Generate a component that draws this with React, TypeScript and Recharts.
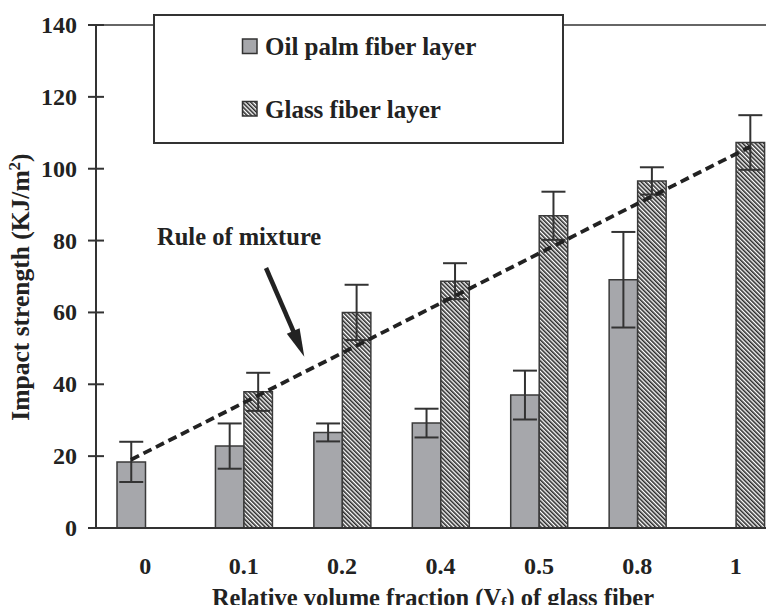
import React from 'react';
import {
  ComposedChart,
  Bar,
  XAxis,
  YAxis,
  ErrorBar,
  ReferenceLine,
  Legend,
} from 'recharts';

// Relative volume fraction of glass fiber (category labels)
const categories = ['0', '0.1', '0.2', '0.4', '0.5', '0.8', '1'];
// Impact strength (KJ/m²) and standard deviations
const oilPalm = [18.4, 22.8, 26.6, 29.2, 37.0, 69.1, null];
const oilPalmErr = [5.6, 6.3, 2.5, 4.0, 6.8, 13.3, null];
const glass = [null, 37.9, 60.0, 68.7, 86.9, 96.6, 107.3];
const glassErr = [null, 5.3, 7.7, 5.0, 6.7, 3.8, 7.6];
// Rule-of-mixture prediction at Vf = 0 and Vf = 1
const ruleOfMixture = [19.0, 106.1];
const yTicks = [0, 20, 40, 60, 80, 100, 120, 140];
const seriesNames = ['Oil palm fiber layer', 'Glass fiber layer'];

const data = categories.map((vf, i) => ({
  vf,
  pos: i + 0.5,
  oil: oilPalm[i],
  oilErr: oilPalmErr[i],
  glass: glass[i],
  glassErr: glassErr[i],
}));

const FONT = '"Liberation Serif", "Times New Roman", serif';
const INK = '#222';
const AXIS = '#333';
const OIL_FILL = '#a6a7ab';
const GLASS_FILL = 'url(#glassHatch)';

const CHART_W = 774;
const CHART_H = 613;
// the plot runs a little past the right edge of the page
const MARGIN = { top: 25, right: -11, bottom: 25, left: 0 };
const Y_AXIS_W = 96;
const X_AXIS_H = 60;
const BAR_SIZE = 28.5;
const PLOT_W = CHART_W - MARGIN.left - MARGIN.right - Y_AXIS_W;
// half a bar, expressed in category-band units on the hidden numeric axis
const barHalf = BAR_SIZE / 2 / (PLOT_W / categories.length);

const textStyle = {
  fontFamily: FONT,
  fontWeight: 'bold' as const,
  fontStyle: 'normal' as const,
  fill: INK,
};

const YTick = (props: any) => {
  const { x, y, payload } = props;
  return (
    <g>
      <line x1={x - 8} x2={x + 8} y1={y} y2={y} stroke={AXIS} strokeWidth={2} />
      <text x={x - 19} y={y + 8} textAnchor="end" fontSize={24} style={textStyle}>
        {payload.value}
      </text>
    </g>
  );
};

const XTick = (props: any) => {
  const { x, y, payload } = props;
  return (
    <text x={x} y={y + 46} textAnchor="middle" fontSize={24} style={textStyle}>
      {payload.value}
    </text>
  );
};

const LegendBox = (props: any) => {
  const payload = props.payload || [];
  const items = seriesNames.map((name) => {
    const entry = payload.find((p: any) => p.value === name);
    return { name, fill: entry?.payload?.fill || entry?.color };
  });
  return (
    <svg width={411} height={130} style={{ display: 'block', fontStyle: 'normal' }}>
      <rect x={1} y={1} width={409} height={128} fill="#fff" stroke={AXIS} strokeWidth={2} />
      {items.map((item, i) => {
        const top = 25 + i * 62.5;
        return (
          <g key={item.name}>
            <rect
              x={89.5}
              y={top}
              width={14.5}
              height={14.5}
              fill={item.fill}
              stroke={AXIS}
              strokeWidth={1.5}
            />
            <text x={112} y={top + 16} fontSize={25} style={textStyle}>
              {item.name}
            </text>
          </g>
        );
      })}
    </svg>
  );
};

export default function App() {
  return (
    <div
      style={{
        margin: -8,
        width: 774,
        height: 613,
        overflow: 'hidden',
        position: 'relative',
        background: '#fff',
      }}
    >
      <svg width={0} height={0} style={{ position: 'absolute' }}>
        <defs>
          <pattern
            id="glassHatch"
            patternUnits="userSpaceOnUse"
            width={3}
            height={3}
            patternTransform="rotate(-45)"
          >
            <rect width={3} height={3} fill="#fff" />
            <line x1={0.8} y1={0} x2={0.8} y2={3} stroke="#2a2a2a" strokeWidth={1.6} />
          </pattern>
        </defs>
      </svg>
      <ComposedChart
        width={CHART_W}
        height={CHART_H}
        data={data}
        margin={MARGIN}
        barGap={0}
        barSize={BAR_SIZE}
      >
        <XAxis
          dataKey="vf"
          tickLine={false}
          tickSize={0}
          tickMargin={0}
          height={X_AXIS_H}
          axisLine={{ stroke: AXIS, strokeWidth: 2 }}
          tick={<XTick />}
          interval={0}
        />
        <XAxis
          xAxisId="band"
          dataKey="pos"
          type="number"
          domain={[0, categories.length]}
          allowDataOverflow
          hide
        />
        <YAxis
          domain={[0, 140]}
          ticks={yTicks}
          width={Y_AXIS_W}
          tickLine={false}
          tickSize={0}
          tickMargin={0}
          axisLine={{ stroke: AXIS, strokeWidth: 2 }}
          tick={<YTick />}
          interval={0}
        />
        <Legend
          layout="horizontal"
          verticalAlign="middle"
          align="center"
          wrapperStyle={{ position: 'absolute', top: 14, left: 153, width: 411, height: 130 }}
          content={<LegendBox />}
        />
        <ReferenceLine y={140} stroke={AXIS} strokeWidth={1.5} />
        <Bar
          dataKey="oil"
          name={seriesNames[0]}
          fill={OIL_FILL}
          stroke="#3a3a3a"
          strokeWidth={1.5}
          isAnimationActive={false}
        >
          <ErrorBar dataKey="oilErr" width={12} stroke={AXIS} strokeWidth={2} />
        </Bar>
        <Bar
          dataKey="glass"
          name={seriesNames[1]}
          fill={GLASS_FILL}
          stroke="#3a3a3a"
          strokeWidth={1.5}
          isAnimationActive={false}
        >
          <ErrorBar dataKey="glassErr" width={12} stroke={AXIS} strokeWidth={2} />
        </Bar>
        <ReferenceLine
          xAxisId="band"
          ifOverflow="visible"
          segment={[
            { x: 0.5 - barHalf, y: ruleOfMixture[0] },
            { x: categories.length - 0.5 + barHalf, y: ruleOfMixture[1] },
          ]}
          stroke={INK}
          strokeWidth={3.8}
          strokeDasharray="9 5"
        />
      </ComposedChart>
      <svg
        width={774}
        height={613}
        style={{ position: 'absolute', left: 0, top: 0, pointerEvents: 'none' }}
      >
        <text x={157} y={245} fontSize={24.5} style={textStyle}>
          Rule of mixture
        </text>
        <line x1={266} y1={268} x2={295} y2={335} stroke={INK} strokeWidth={4.5} />
        <polygon points="304.3,356.7 299.6,328.2 286.8,333.8" fill={INK} />
        <text x={433} y={606} textAnchor="middle" fontSize={24.5} style={textStyle}>
          Relative volume fraction (V
          <tspan fontSize={16} dy={3}>f</tspan>
          <tspan dy={-3}>) of glass fiber</tspan>
        </text>
        <text
          transform="translate(29, 287) rotate(-90)"
          textAnchor="middle"
          fontSize={25.5}
          style={textStyle}
        >
          Impact strength (KJ/m
          <tspan fontSize={17} dy={-9}>2</tspan>
          <tspan dy={9}>)</tspan>
        </text>
      </svg>
    </div>
  );
}
